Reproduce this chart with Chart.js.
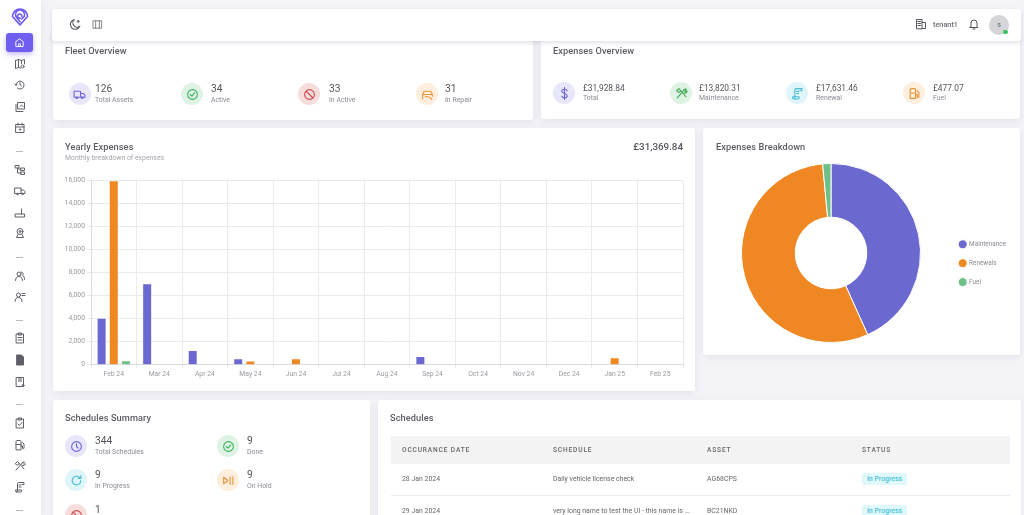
<!DOCTYPE html>
<html>
<head>
<meta charset="utf-8">
<title>Dashboard</title>
<script src="https://cdn.jsdelivr.net/npm/chart.js@4"></script>
<style>
  html, body { margin: 0; height: 100%; overflow: hidden; background: #f4f4f8; }
  #page { position: relative; width: 1024px; height: 515px; overflow: hidden; font-family: Roboto, "Noto Sans", sans-serif; color: #5b5b64; filter: blur(0.5px); }
  .card { position: absolute; background: #fff; border-radius: 3px; box-shadow: 0 2px 8px rgba(90,90,130,.12); }
  .t { position: absolute; white-space: nowrap; transform: translateY(-50%); line-height: 1; }
  .title { font-size: 9.2px; font-weight: 500; letter-spacing: .1px; }
  .val { font-size: 10.2px; color: #55555e; }
  .money { font-size: 8.4px; color: #55555e; }
  .lab { font-size: 6.9px; color: #8b8b94; }
  .th { font-size: 6.6px; font-weight: 500; letter-spacing: .85px; color: #666; }
  .td { font-size: 6.9px; color: #66666e; }
  .ic { position: absolute; width: 22px; height: 22px; border-radius: 50%; display: flex; align-items: center; justify-content: center; }
  .ic svg, .sb svg { fill: none; stroke: currentColor; stroke-width: 2; stroke-linecap: round; stroke-linejoin: round; }
  .sb { position: absolute; color: #5f5f68; display: flex; align-items: center; justify-content: center; }
  canvas { position: absolute; }
</style>
</head>
<body>
<div id="page">
  <div class="card" style="left:0;top:0;width:41px;height:515px;border-radius:0"></div>
  <div class="card" style="left:53px;top:30px;width:480px;height:90px"></div>
  <div class="card" style="left:541px;top:30px;width:479px;height:89px"></div>
  <div class="card" style="left:52px;top:9px;width:969px;height:32px;box-shadow:0 2px 5px rgba(90,90,130,.18)"></div>
  <div class="card" style="left:53px;top:128px;width:642px;height:263px"></div>
  <div class="card" style="left:703px;top:128px;width:317px;height:227px"></div>
  <div class="card" style="left:53px;top:400px;width:317px;height:130px"></div>
  <div class="card" style="left:378px;top:400px;width:643px;height:130px"></div>
  <div style="position:absolute;left:391px;top:436px;width:619px;height:28px;background:#f3f3f3"></div>
  <div style="position:absolute;left:391px;top:495px;width:619px;height:1px;background:#ececec"></div>
  <canvas id="barChart" style="left:53px;top:170px;width:642px;height:215px"></canvas>
  <canvas id="pieChart" style="left:703px;top:163px;width:313px;height:180px"></canvas>
</div>
<script>
const months = ["Feb 24","Mar 24","Apr 24","May 24","Jun 24","Jul 24","Aug 24","Sep 24","Oct 24","Nov 24","Dec 24","Jan 25","Feb 25"]
const maintenance = [4000,7000,1200,480,0,0,0,680,0,0,0,0,0]
const renewals = [15950,50,0,280,480,0,0,0,0,0,0,560,0]
const fuel = [300,50,0,30,0,0,0,30,0,0,0,0,0]
const breakdownLabels = ["Maintenance","Renewals","Fuel"]
const breakdownValues = [13820.31,17631.46,477.07]
const colors = ["#6b69cf","#ef8722","#6fbf88"]

const icons = {
  truck: '<path d="M2 6h12v11H2zM14 10h5l3 3v4h-8"/><circle cx="7" cy="18" r="1.5"/><circle cx="17" cy="18" r="1.5"/>',
  check: '<circle cx="12" cy="12" r="9"/><path d="M8 12l3 3 5-6"/>',
  ban: '<circle cx="12" cy="12" r="9"/><path d="M6 6l12 12"/>',
  repair: '<path d="M3 20v-8l3-6h12l3 6v3M3 12h18M8 16h6M16 17l4 4"/>',
  dollar: '<path d="M17 7c-1-2-3-3-5-3-3 0-5 2-5 4s2 3 5 4 5 2 5 4-2 4-5 4c-2 0-4-1-5-3M12 1v22"/>',
  tools: '<path d="M4 20L14 9M8 4l12 14M3 7l4-4 4 4-4 3zM15 8c0-3 3-5 6-4l-3 3 2 2 2-2c1 3-2 5-5 4"/>',
  scroll: '<path d="M7 20V5c0-1 1-2 2-2h11v4h-4M7 20c0 1-1 2-2 2s-2-1-2-2v-2h12v2c0 1-1 2-2 2H5M10 8h4M10 12h4"/>',
  fuel: '<path d="M4 21V5c0-1 1-2 2-2h6c1 0 2 1 2 2v16zM4 11h10M17 7l3 3v8c0 2-3 2-3 0v-4h-3"/>',
  clock: '<circle cx="12" cy="12" r="9"/><path d="M12 7v5l3 3"/>',
  refresh: '<path d="M20 12a8 8 0 1 1-3-6.2L20 8M20 3v5h-5"/>',
  hold: '<path d="M3 6l8 6-8 6zM15 5v14M20 5v14"/>',
  home: '<path d="M4 20V10l8-6 8 6v10zM10 20v-5h4v5"/>',
  map: '<path d="M3 5l6-2 6 2 6-2v9M3 5v16l6-2 4 1M9 3v16M15 5v6"/><circle cx="17" cy="17" r="3"/>',
  history: '<path d="M4 12a8 8 0 1 1 2.5 6M4 12l-2-2M4 12l2-2M12 7v5l3 2"/>',
  copy: '<path d="M8 3h13v13H8zM4 7v14h14M12 11l3-3 3 3"/>',
  cal: '<path d="M4 5h16v16H4zM4 10h16M8 2v4M16 2v4"/><circle cx="12" cy="15" r="1.5"/>',
  tree: '<path d="M3 3h7v5H3zM14 8h7v5h-7zM14 16h7v5h-7zM7 8v10h7M7 10h7"/>',
  router: '<path d="M3 14h18v6H3zM15 14V4"/>',
  pin: '<circle cx="12" cy="9" r="6"/><circle cx="12" cy="9" r="2"/><path d="M8 15l-3 6h14l-3-6"/>',
  users: '<circle cx="10" cy="8" r="4"/><path d="M3 21c0-5 3-8 7-8s7 3 7 8M15 4a4 4 0 0 1 2 7c3 1 4 4 4 8"/>',
  user: '<circle cx="9" cy="8" r="4"/><path d="M2 21c0-5 3-8 7-8s7 3 7 8M16 5h6M16 9h6"/>',
  clip: '<path d="M5 4h14v18H5zM9 2h6v4H9zM8 11h8M8 16h8"/>',
  doc: '<path d="M6 2h9l4 4v16H6z" fill="currentColor"/>',
  doc2: '<path d="M5 3h14v18H5zM10 3v8l2-2 2 2V3"/><circle cx="18" cy="19" r="2"/>',
  task: '<path d="M5 4h14v18H5zM9 2h6v4H9zM8 14l3 3 5-6"/>',
  moon: '<path d="M20 15A9 9 0 1 1 10 3a7 7 0 0 0 10 12zM17 4v4M15 6h4"/>',
  panel: '<path d="M3 4h18v16H3zM8 4v16M16 4v16"/>',
  building: '<path d="M3 21V3h11v18zM14 9h7v12h-7M6 7h5M6 11h5M6 15h5" />',
  bell: '<path d="M6 17V10a6 6 0 0 1 12 0v7l2 2H4zM10 22h4"/>'
}

const fleetStats = [
  ["126","Total Assets","truck","#6c63e0","#e8e6fb",79.5,95],
  ["34","Active","check","#3db35f","#dff3e4",192,211],
  ["33","In Active","ban","#cf4a4f","#f7dcdc",309,329],
  ["31","In Repair","repair","#ea9236","#fdeedd",427,445]
]
const expenseStats = [
  ["£31,928.84","Total","dollar","#6c63e0","#e8e6fb",564,583],
  ["£13,820.31","Maintenance","tools","#3da653","#dff3e4",681,699],
  ["£17,631.46","Renewal","scroll","#45bcd4","#dff5fa",797,816],
  ["£477.07","Fuel","fuel","#ea9236","#fdeedd",914,933]
]
const scheduleStats = [
  ["344","Total Schedules","clock","#6c63e0","#e8e6fb",76,95,446],
  ["9","Done","check","#3db35f","#dff3e4",228,247,446],
  ["9","In Progress","refresh","#45bcd4","#dff5fa",76,95,480],
  ["9","On Hold","hold","#ea9236","#fdeedd",228,247,480],
  ["1","","ban","#cf4a4f","#f7dcdc",76,95,515]
]
const tableCols = ["OCCURANCE DATE","SCHEDULE","ASSET","STATUS"]
const tableRows = [
  ["28 Jan 2024","Daily vehicle license check","AG68CPS","In Progress"],
  ["29 Jan 2024","very long name to test the UI - this name is ...","BC21NKD","In Progress"]
]
const sideIcons = [["map",64],["history",85],["copy",107],["cal",128],["tree",170],["truck",191],["router",213],["pin",233],["users",276],["user",297],["clip",338],["doc",360],["doc2",382],["task",423],["fuel",445],["tools",466],["scroll",487]]
const sideDashes = [151,257,320,404,510]

const page = document.getElementById("page")
const add = html => page.insertAdjacentHTML("beforeend", html)
const text = (s, x, y, cls, extra) => add(`<div class="t ${cls}" style="left:${x}px;top:${y}px;${extra || ""}">${s}</div>`)
const svg = (name, size) => `<svg width="${size}" height="${size}" viewBox="0 0 24 24">${icons[name]}</svg>`

function stat(s, y, valCls, textY1, textY2) {
  add(`<div class="ic" style="left:${s[5]-11}px;top:${y-11}px;background:${s[4]};color:${s[3]}">${svg(s[2], 13)}</div>`)
  text(s[0], s[6], textY1, valCls)
  text(s[1], s[6], textY2, "lab")
}

text("Fleet Overview", 65, 50.5, "title")
fleetStats.forEach(s => stat(s, 94, "val", 89, 99.5))
text("Expenses Overview", 553, 50.5, "title")
expenseStats.forEach(s => stat(s, 93, "money", 88, 98))
text("Yearly Expenses", 65, 146.5, "title")
text("Monthly breakdown of expenses", 65, 158, "lab", "color:#a5a5ad")
add(`<div class="t" style="right:341px;top:146.5px;font-size:9.8px;font-weight:500;color:#55555e">£31,369.84</div>`)
text("Expenses Breakdown", 716, 146.5, "title")
text("Schedules Summary", 65, 417.5, "title")
scheduleStats.forEach(s => stat(s, s[7], "val", s[7]-5, s[7]+6))
text("Schedules", 390, 417.5, "title")

const colX = [402,553,707,862]
tableCols.forEach((c, i) => text(c, colX[i], 449.5, "th"))
tableRows.forEach((r, j) => {
  const y = 479 + j * 31.5
  r.forEach((c, i) => {
    if (i < 3) text(c, colX[i], y, "td")
    else add(`<div class="t" style="left:${colX[i]}px;top:${y}px;width:45px;height:12px;line-height:12px;text-align:center;background:#e0f7fb;border-radius:2px;color:#49c3da;font-size:6.9px;font-weight:500">${c}</div>`)
  })
})

// sidebar and header
add(`<div style="position:absolute;left:6px;top:33px;width:27px;height:19px;border-radius:3px;background:#6f5ef0;box-shadow:0 2px 5px rgba(111,94,240,.45)"></div>`)
add(`<div class="sb" style="left:12px;top:35px;width:15px;height:15px;color:#fff">${svg("home", 11)}</div>`)
add(`<div class="sb" style="left:9px;top:5px;width:22px;height:22px;color:#6f5ef0"><svg width="20" height="21" viewBox="0 0 24 24"><path d="M12 22L3 12a9 9 0 1 1 18 0zM12 18l-5-6a5.500 5.500 0 1 1 10 0l-3 3M12 14a2.500 2.500 0 1 1 2-2"/></svg></div>`)
sideIcons.forEach(i => add(`<div class="sb" style="left:12px;top:${i[1]-7.5}px;width:15px;height:15px">${svg(i[0], 12)}</div>`))
sideDashes.forEach(y => add(`<div style="position:absolute;left:16px;top:${y}px;width:7px;height:1px;background:#bbb"></div>`))
add(`<div class="sb" style="left:67px;top:16px;width:16px;height:16px;color:#55555e">${svg("moon", 13)}</div>`)
add(`<div class="sb" style="left:90px;top:17px;width:14px;height:14px;color:#77777f">${svg("panel", 11)}</div>`)
add(`<div class="sb" style="left:914px;top:17px;width:14px;height:14px;color:#55555e">${svg("building", 12)}</div>`)
text("tenant1", 933, 24.5, "lab", "color:#6d6d76;font-size:7.3px;font-weight:500")
add(`<div class="sb" style="left:967px;top:17px;width:14px;height:14px;color:#55555e">${svg("bell", 12)}</div>`)
add(`<div style="position:absolute;left:989px;top:15px;width:20px;height:20px;border-radius:50%;background:#d4d4d9;color:#666;font-size:7px;line-height:20px;text-align:center">s</div>`)
add(`<div style="position:absolute;left:1003px;top:29.500px;width:4.500px;height:4.500px;border-radius:50%;background:#35c25e"></div>`)

const gridColor = "#ebebee"
const tickFont = { family: "Roboto", size: 6.8 }
new Chart(document.getElementById("barChart"), {
  type: "bar",
  data: {
    labels: months,
    datasets: [
      { label: "Maintenance", data: maintenance, backgroundColor: colors[0] },
      { label: "Renewals", data: renewals, backgroundColor: colors[1] },
      { label: "Fuel", data: fuel, backgroundColor: colors[2] }
    ]
  },
  options: {
    responsive: false,
    animation: false,
    layout: { padding: { top: 10.7, right: 12, bottom: 0, left: 0 } },
    datasets: { bar: { categoryPercentage: 0.8, barPercentage: 0.66 } },
    plugins: { legend: { display: false }, tooltip: { enabled: false } },
    scales: {
      x: {
        grid: { color: gridColor, tickLength: 4 },
        border: { color: "#dcdce0" },
        ticks: { font: tickFont, color: "#9a9aa2", padding: 2, maxRotation: 0, autoSkip: false },
        afterFit(s) { s.height = 20.3 }
      },
      y: {
        min: 0,
        max: 16000,
        grid: { color: gridColor, tickLength: 4 },
        border: { color: "#dcdce0" },
        ticks: { font: tickFont, color: "#9a9aa2", stepSize: 2000, padding: 2, callback: v => v.toLocaleString("en-GB") },
        afterFit(s) { s.width = 38 }
      }
    }
  }
})

new Chart(document.getElementById("pieChart"), {
  type: "doughnut",
  data: {
    labels: breakdownLabels,
    datasets: [{ data: breakdownValues, backgroundColor: colors, borderWidth: 1, borderColor: "#fff" }]
  },
  options: {
    responsive: false,
    animation: false,
    cutout: "40%",
    layout: { padding: { left: 12 } },
    plugins: {
      tooltip: { enabled: false },
      legend: {
        position: "right",
        // empty title only pushes the legend entries down next to the ring
        title: { display: true, text: "", padding: { top: 12, bottom: 0 }, font: { size: 7 } },
        labels: { usePointStyle: true, boxWidth: 7, padding: 12.5, color: "#8b8b94", font: { family: "Roboto", size: 6.4 } }
      }
    }
  }
})
</script>
</body>
</html>
